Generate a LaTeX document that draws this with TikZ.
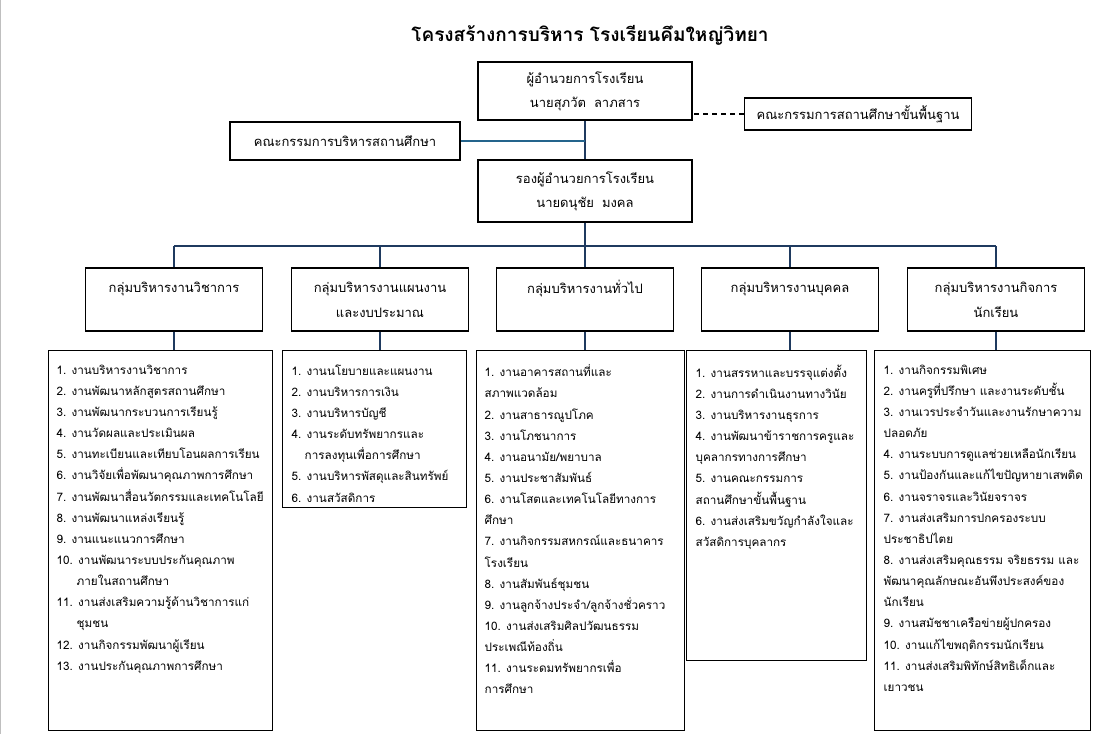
\documentclass[tikz,border=0pt]{standalone}
\usepackage{fontspec}
\setmainfont[Script=Thai]{Loma}
\lineskiplimit=-30pt
\lineskip=0pt
\definecolor{navyc}{HTML}{1F3A5F}
\definecolor{bluec}{HTML}{24648C}
\begin{document}
\begin{tikzpicture}[x=1pt,y=-1pt,
  box/.style={draw=black, line width=1.4pt, align=center, inner sep=0pt, font=\fontsize{13}{24}\selectfont},
  grp/.style={box, minimum width=177pt, minimum height=63pt, font=\fontsize{13}{25}\selectfont},
  lst/.style={draw=black, line width=1pt, inner sep=0pt},
  lsttext/.style={anchor=north west, align=left, inner sep=0pt, font=\fontsize{11.7}{21.15}\selectfont},
  navy/.style={draw=navyc, line width=1.4pt},
  blueline/.style={draw=bluec, line width=1.4pt},
  dashline/.style={draw=black, line width=1.4pt, dash pattern=on 5pt off 4pt}]
\useasboundingbox (0,0) rectangle (1120,734);
\draw[gray!50] (0.5,0) -- (0.5,734);

\node (title) at (590,35) {\fontsize{19}{24}\selectfont\bfseries โครงสร้างการบริหาร โรงเรียนคึมใหญ่วิทยา};

\node[box, minimum width=214pt, minimum height=58pt] (dir) at (585,91) {ผู้อำนวยการโรงเรียน\\นายสุภวัต\hspace{8pt}ลาภสาร};
\node[box, minimum width=227pt, minimum height=32pt] (basic) at (858,114) {คณะกรรมการสถานศึกษาขั้นพื้นฐาน};
\node[box, minimum width=230pt, minimum height=38pt] (adm) at (345,141) {คณะกรรมการบริหารสถานศึกษา};
\node[box, minimum width=214pt, minimum height=62pt] (vice) at (585,191) {รองผู้อำนวยการโรงเรียน\\นายดนุชัย\hspace{8pt}มงคล};

\draw[navy] (dir.south) -- (vice.north);
\draw[blueline] (adm.east) -- (adm.east -| dir.south);
\draw[dashline] (basic.west) -- (basic.west -| dir.east);

\node[grp] (g1) at (174,299.5) {กลุ่มบริหารงานวิชาการ\\\mbox{}};
\node[grp] (g2) at (380,299.5) {กลุ่มบริหารงานแผนงาน\\และงบประมาณ};
\node[grp] (g3) at (585,299.5) {กลุ่มบริหารงานทั่วไป\\\mbox{}};
\node[grp] (g4) at (790,299.5) {กลุ่มบริหารงานบุคคล\\\mbox{}};
\node[grp] (g5) at (996,299.5) {กลุ่มบริหารงานกิจการ\\นักเรียน};

\coordinate (bus) at (585,246);
\draw[navy] (vice.south) -- (bus);
\draw[navy] (g1.north |- bus) -- (g5.north |- bus);
\foreach \g in {g1,g2,g3,g4,g5} {\draw[navy] (\g.north |- bus) -- (\g.north);}

\node[lst, minimum width=224pt, minimum height=380pt] (l1) at (160,540) {};
\node[lst, minimum width=184pt, minimum height=157pt] (l2) at (374,428.5) {};
\node[lst, minimum width=208pt, minimum height=380pt] (l3) at (580,540) {};
\node[lst, minimum width=180pt, minimum height=310pt] (l4) at (776,505) {};
\node[lst, minimum width=216pt, minimum height=380pt] (l5) at (982,540) {};

\draw[navy] (g1.south) -- (g1.south |- l1.north);
\draw[navy] (g2.south) -- (g2.south |- l2.north);
\draw[navy] (g3.south) -- (g3.south |- l3.north);
\draw[navy] (g4.south) -- (g4.south |- l4.north);
\draw[navy] (g5.south) -- (g5.south |- l5.north);

\node[lsttext] (t1) at ([xshift=9pt,yshift=-15pt]l1.north west) {%
1. งานบริหารงานวิชาการ\\
2. งานพัฒนาหลักสูตรสถานศึกษา\\
3. งานพัฒนากระบวนการเรียนรู้\\
4. งานวัดผลและประเมินผล\\
5. งานทะเบียนและเทียบโอนผลการเรียน\\
6. งานวิจัยเพื่อพัฒนาคุณภาพการศึกษา\\
7. งานพัฒนาสื่อนวัตกรรมและเทคโนโลยี\\
8. งานพัฒนาแหล่งเรียนรู้\\
9. งานแนะแนวการศึกษา\\
10. งานพัฒนาระบบประกันคุณภาพ\\
\hspace*{20pt}ภายในสถานศึกษา\\
11. งานส่งเสริมความรู้ด้านวิชาการแก่\\
\hspace*{20pt}ชุมชน\\
12. งานกิจกรรมพัฒนาผู้เรียน\\
13. งานประกันคุณภาพการศึกษา};

\node[lsttext] (t2) at ([xshift=10pt,yshift=-15pt]l2.north west) {%
1. งานนโยบายและแผนงาน\\
2. งานบริหารการเงิน\\
3. งานบริหารบัญชี\\
4. งานระดับทรัพยากรและ\\
\hspace*{13pt}การลงทุนเพื่อการศึกษา\\
5. งานบริหารพัสดุและสินทรัพย์\\
6. งานสวัสดิการ};

\node[lsttext] (t3) at ([xshift=9pt,yshift=-15pt]l3.north west) {%
1. งานอาคารสถานที่และ\\
สภาพแวดล้อม\\
2. งานสาธารณูปโภค\\
3. งานโภชนาการ\\
4. งานอนามัย/พยาบาล\\
5. งานประชาสัมพันธ์\\
6. งานโสตและเทคโนโลยีทางการ\\
ศึกษา\\
7. งานกิจกรรมสหกรณ์และธนาคาร\\
โรงเรียน\\
8. งานสัมพันธ์ชุมชน\\
9. งานลูกจ้างประจำ/ลูกจ้างชั่วคราว\\
10. งานส่งเสริมศิลปวัฒนธรรม\\
ประเพณีท้องถิ่น\\
11. งานระดมทรัพยากรเพื่อ\\
การศึกษา};

\node[lsttext] (t4) at ([xshift=10pt,yshift=-15pt]l4.north west) {%
1. งานสรรหาและบรรจุแต่งตั้ง\\
2. งานการดำเนินงานทางวินัย\\
3. งานบริหารงานธุรการ\\
4. งานพัฒนาข้าราชการครูและ\\
บุคลากรทางการศึกษา\\
5. งานคณะกรรมการ\\
สถานศึกษาขั้นพื้นฐาน\\
6. งานส่งเสริมขวัญกำลังใจและ\\
สวัสดิการบุคลากร};

\node[lsttext] (t5) at ([xshift=10pt,yshift=-15pt]l5.north west) {%
1. งานกิจกรรมพิเศษ\\
2. งานครูที่ปรึกษา และงานระดับชั้น\\
3. งานเวรประจำวันและงานรักษาความ\\
ปลอดภัย\\
4. งานระบบการดูแลช่วยเหลือนักเรียน\\
5. งานป้องกันและแก้ไขปัญหายาเสพติด\\
6. งานจราจรและวินัยจราจร\\
7. งานส่งเสริมการปกครองระบบ\\
ประชาธิปไตย\\
8. งานส่งเสริมคุณธรรม จริยธรรม และ\\
พัฒนาคุณลักษณะอันพึงประสงค์ของ\\
นักเรียน\\
9. งานสมัชชาเครือข่ายผู้ปกครอง\\
10. งานแก้ไขพฤติกรรมนักเรียน\\
11. งานส่งเสริมพิทักษ์สิทธิเด็กและ\\
เยาวชน};
\end{tikzpicture}
\end{document}
